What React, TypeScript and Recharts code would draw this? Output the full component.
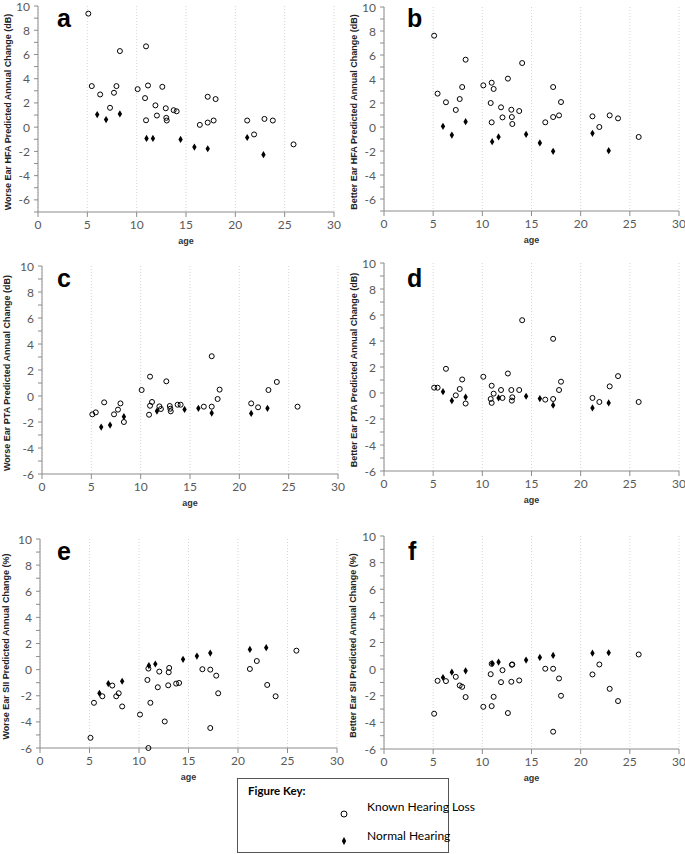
import React from 'react'
import { ScatterChart, Scatter, XAxis, YAxis, CartesianGrid, Label } from 'recharts'

// ages of the children (same subjects in every panel)
const khlAge = [5.1, 5.45, 6.3, 7.3, 7.7, 7.95, 8.3, 10.1, 10.85, 10.95, 10.95, 11.15, 11.9, 12.05, 12.6, 12.95, 13.0, 13.05, 13.75, 14.05, 16.4, 17.2, 17.2, 17.8, 18.0, 21.2, 21.9, 22.95, 23.8, 25.9]
const nhAge = [6.0, 6.9, 8.3, 11.0, 11.65, 14.45, 15.85, 17.2, 21.2, 22.85]

// a - worse ear HFA
const worseHfaKhl = [9.37, 3.39, 2.7, 1.6, 2.84, 3.39, 6.28, 3.14, 2.4, 6.67, 0.57, 3.44, 1.8, 0.96, 3.33, 1.56, 0.77, 0.55, 1.4, 1.31, 0.19, 2.51, 0.38, 0.55, 2.32, 0.55, -0.6, 0.68, 0.55, -1.42]
const worseHfaNh = [1.04, 0.63, 1.09, -0.93, -0.93, -1.01, -1.64, -1.78, -0.85, -2.27]
// b - better ear HFA
const betterHfaKhl = [7.61, 2.78, 2.06, 1.42, 2.33, 3.33, 5.61, 3.47, 2.0, 3.69, 0.39, 3.17, 1.64, 0.8, 4.03, 1.44, 0.83, 0.25, 1.33, 5.33, 0.39, 3.33, 0.83, 0.97, 2.08, 0.89, 0.0, 0.97, 0.72, -0.83]
const betterHfaNh = [0.06, -0.67, 0.44, -1.22, -0.83, -0.61, -1.33, -2.03, -0.53, -1.97]
// c - worse ear PTA
const worsePtaKhl = [-1.41, -1.26, -0.49, -1.41, -1.05, -0.57, -2.0, 0.46, -1.44, 1.49, -0.75, -0.46, -0.8, -1.0, 1.13, -0.77, -0.98, -1.18, -0.67, -0.67, -0.82, 3.06, -0.82, -0.23, 0.49, -0.57, -0.87, 0.46, 1.08, -0.82]
const worsePtaNh = [-2.39, -2.24, -1.59, null, -1.16, -1.03, -0.95, -1.31, -1.34, -0.95]
// d - better ear PTA
const betterPtaKhl = [0.41, 0.41, 1.86, -0.18, 0.31, 1.04, -0.81, 1.25, -0.46, 0.56, -0.76, -0.05, 0.23, -0.38, 1.5, 0.23, -0.59, -0.33, 0.23, 5.6, -0.51, 4.17, -0.46, 0.23, 0.87, -0.38, -0.69, 0.51, 1.3, -0.69]
const betterPtaNh = [0.1, -0.59, -0.31, null, -0.38, -0.25, -0.43, -0.94, -1.15, -0.76]
// e - worse ear SII
const worseSiiKhl = [-5.22, -2.54, -2.04, -1.22, -2.04, -1.81, -2.82, -3.44, -0.79, 0.08, -6.0, -2.54, -1.35, -0.15, -3.97, -1.2, -0.2, 0.13, -1.07, -1.02, 0.03, -4.47, 0.0, -0.46, -1.81, 0.05, 0.66, -1.17, -2.04, 1.45]
const worseSiiNh = [-1.81, -1.07, -0.89, 0.31, 0.43, 0.79, 1.04, 1.27, 1.55, 1.68]
// f - better ear SII
const betterSiiKhl = [-3.35, -0.88, -0.9, -0.58, -1.23, -1.33, -2.1, -2.83, -0.38, 0.4, -2.78, -2.08, -0.98, -0.08, -3.3, -0.95, 0.33, 0.35, -0.85, null, 0.03, -4.7, 0.03, -0.7, -2.0, -0.4, 0.35, -1.48, -2.4, 1.1]
const betterSiiNh = [-0.63, -0.23, -0.13, 0.43, 0.53, 0.68, 0.88, 1.03, 1.2, 1.23]

const xTicks = [0, 5, 10, 15, 20, 25, 30]

const panels = [
  { id: 'a', title: 'Worse Ear HFA Predicted Annual Change (dB)', khl: worseHfaKhl, nh: worseHfaNh, left: 38, top: 6, right: 334, bottom: 212, yMin: -7, titleX: 10.5 },
  { id: 'b', title: 'Better Ear HFA Predicted Annual Change (dB)', khl: betterHfaKhl, nh: betterHfaNh, left: 384, top: 7, right: 679, bottom: 211, yMin: -7, titleX: 357 },
  { id: 'c', title: 'Worse Ear PTA Predicted Annual Change (dB)', khl: worsePtaKhl, nh: worsePtaNh, left: 42, top: 266, right: 338, bottom: 474, yMin: -6, titleX: 10 },
  { id: 'd', title: 'Better Ear PTA Predicted Annual Change (dB)', khl: betterPtaKhl, nh: betterPtaNh, left: 384, top: 263, right: 679, bottom: 471, yMin: -6, titleX: 357 },
  { id: 'e', title: 'Worse Ear SII Predicted Annual Change (%)', khl: worseSiiKhl, nh: worseSiiNh, left: 40, top: 539, right: 337, bottom: 748, yMin: -6, titleX: 9 },
  { id: 'f', title: 'Better Ear SII Predicted Annual Change (%)', khl: betterSiiKhl, nh: betterSiiNh, left: 384, top: 536, right: 679, bottom: 749, yMin: -6, titleX: 356 },
]

const letterPos: Record<string, [number, number]> = {
  a: [57, 27], b: [407, 27], c: [57, 287], d: [407, 287], e: [57, 560], f: [408, 560],
}

const PAD_L = 40
const PAD_T = 10
const PAD_R = 10
const PAD_B = 40
const AXIS = '#8c8c8c'
const TICK_TEXT = '#595959'
const TICK_FONT = 'Lato, "Open Sans", sans-serif'
const BOLD_FONT = '"Liberation Sans", Arial, sans-serif'

const toPoints = (ages: number[], vals: (number | null)[]) =>
  ages.map((age, i) => ({ age, v: vals[i] })).filter((p) => p.v !== null)

const OpenCircle = (p: any) => (
  <circle cx={p.cx} cy={p.cy} r={2.5} fill="none" stroke="#000" strokeWidth={1} />
)

const Diamond = (p: any) => (
  <polygon
    points={`${p.cx},${p.cy - 3.6} ${p.cx + 2.2},${p.cy} ${p.cx},${p.cy + 3.6} ${p.cx - 2.2},${p.cy}`}
    fill="#000"
  />
)

const XTick = (p: any) => (
  <text x={p.x} y={p.y + 1} dy="0.71em" textAnchor="middle" fill={TICK_TEXT} fontSize={12} fontFamily={TICK_FONT}>
    {p.payload.value}
  </text>
)

const YTick = (p: any) =>
  p.payload.value % 2 === 0 ? (
    <text x={p.x} y={p.y} dy={4.5} textAnchor="end" fill={TICK_TEXT} fontSize={12} fontFamily={TICK_FONT}>
      {p.payload.value}
    </text>
  ) : (
    <g />
  )

const Panel = ({ p }: { p: (typeof panels)[number] }) => {
  const plotW = p.right - p.left
  const plotH = p.bottom - p.top
  const yTicks: number[] = []
  for (let v = p.yMin; v <= 10; v++) yTicks.push(v)
  const tx = PAD_L - (p.left - p.titleX)
  const ty = PAD_T + plotH / 2 + 3
  return (
    <div style={{ position: 'absolute', left: p.left - PAD_L, top: p.top - PAD_T }}>
      <ScatterChart
        width={plotW + PAD_L + PAD_R}
        height={plotH + PAD_T + PAD_B}
        margin={{ top: PAD_T, right: PAD_R, bottom: 0, left: 0 }}
      >
        <CartesianGrid horizontal={false} stroke="#d6d6d6" strokeDasharray="1 2" />
        <XAxis
          type="number"
          dataKey="age"
          domain={[0, 30]}
          ticks={xTicks}
          interval={0}
          height={PAD_B}
          tickSize={5}
          tickMargin={2}
          stroke={AXIS}
          tick={<XTick />}
        >
          <Label
            content={() => (
              <text x={PAD_L + plotW / 2} y={PAD_T + plotH + 29} dy={3} textAnchor="middle" fontSize={9} fontWeight="bold" fontFamily={BOLD_FONT} fill="#333">
                age
              </text>
            )}
          />
        </XAxis>
        <YAxis
          type="number"
          dataKey="v"
          domain={[p.yMin, 10]}
          ticks={yTicks}
          interval={0}
          width={PAD_L}
          tickSize={4}
          tickMargin={4}
          stroke={AXIS}
          tick={<YTick />}
        >
          <Label
            content={() => (
              <text x={tx} y={ty} transform={`rotate(-90 ${tx} ${ty})`} textAnchor="middle" fontSize={9} fontWeight="bold" fontFamily={BOLD_FONT} fill="#222">
                {p.title}
              </text>
            )}
          />
        </YAxis>
        <Scatter data={toPoints(khlAge, p.khl)} shape={OpenCircle} isAnimationActive={false} />
        <Scatter data={toPoints(nhAge, p.nh)} shape={Diamond} isAnimationActive={false} />
      </ScatterChart>
    </div>
  )
}

const App: React.FC = () => (
  <div style={{ position: 'absolute', left: 0, top: 0, width: 685, height: 854, background: '#fff', overflow: 'hidden' }}>
    {panels.map((p) => (
      <Panel key={p.id} p={p} />
    ))}
    <svg width={685} height={854} style={{ position: 'absolute', left: 0, top: 0, pointerEvents: 'none' }}>
      {panels.map((p) => (
        <text key={p.id} x={letterPos[p.id][0]} y={letterPos[p.id][1]} fontSize={25} fontWeight="bold" fontFamily={BOLD_FONT} fill="#000">
          {p.id}
        </text>
      ))}
      <rect x={237.5} y={778.5} width={211} height={74} fill="#fff" stroke="#555" strokeWidth={1} />
      <text x={248} y={795} fontSize={11.5} fontWeight="bold" fontFamily={TICK_FONT} fill="#000">
        Figure Key:
      </text>
      <circle cx={344} cy={814} r={3} fill="none" stroke="#000" strokeWidth={1} />
      <text x={367} y={811} fontSize={12} fontFamily={TICK_FONT} fill="#000">
        Known Hearing Loss
      </text>
      <polygon points="344,837 346.2,841 344,845 341.8,841" fill="#000" />
      <text x={367} y={840} fontSize={12} fontFamily={TICK_FONT} fill="#000">
        Normal Hearing
      </text>
    </svg>
  </div>
)

export default App
